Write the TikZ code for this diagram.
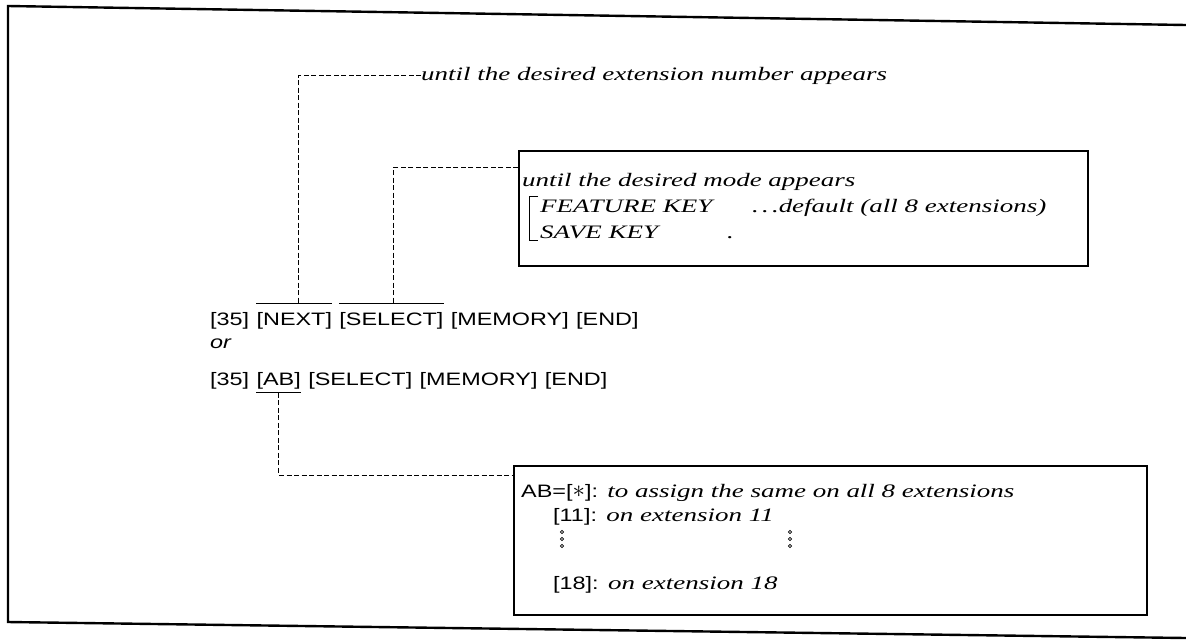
\documentclass[tikz,border=0pt]{standalone}
\usepackage{fontspec}
\setmainfont{Liberation Serif}
\newfontfamily\itf{Liberation Serif}[FakeStretch=1.42]
\newfontfamily\keyf{Liberation Sans}[FakeStretch=1.3]
\usetikzlibrary{calc}
\tikzset{
  lbl/.style={font=\itf\itshape\fontsize{19}{22}\selectfont, inner sep=0pt, anchor=base west},
  key/.style={font=\keyf\fontsize{18}{21}\selectfont, inner sep=0pt, anchor=base west},
  boxst/.style={draw, line width=1.8pt, inner sep=0pt, anchor=north west},
  conn/.style={line width=0.9pt, dash pattern=on 5pt off 2.5pt},
  bar/.style={line width=1pt},
  frame/.style={line width=2.4pt},
  dotc/.style={line width=0.6pt},
}
\newcommand{\bigstar}{\raisebox{-0.5pt}{\fontsize{28}{28}\selectfont$\ast$}}
\begin{document}
\begin{tikzpicture}[x=1pt,y=-1pt]
\useasboundingbox (0,0) rectangle (1186,641);
% outer frame (slightly skewed scan)
\draw[frame] (1186,25) -- (8,6) -- (8,622) -- (1186,638);

% top label
\node[lbl] (toplbl) at (421,80) {until the desired extension number appears};

% box 1
\node[boxst, minimum width=569pt, minimum height=115pt] (box1) at (518,150) {};
\node[lbl] (m1) at (522,186) {until the desired mode appears};
\node[lbl] (m2) at (540,212) {FEATURE KEY};
\node[lbl] (m2b) at (752,212) {.\,.\,.default (all 8 extensions)};
\node[lbl] (m3) at (540,238) {SAVE KEY};
\node[lbl] (m3b) at (727,238) {.};
\draw[bar] ($(m2.west)+(-2,-9)$) -- ++(-9,0) -- ($(m3.base west)+(-11,2)$) -- ++(9,0);

% key line 1
\node[key] (a35) at (210,325) {[35]};
\node[key] (anext) at ([xshift=7pt]a35.base east) {[NEXT]};
\node[key] (asel) at ([xshift=7pt]anext.base east) {[SELECT]};
\node[key] (amem) at ([xshift=7pt]asel.base east) {[MEMORY]};
\node[key] (aend) at ([xshift=7pt]amem.base east) {[END]};

\node[key, font=\keyf\itshape\fontsize{18}{21}\selectfont] (or) at (210,348) {or};

% key line 2
\node[key] (b35) at (210,385) {[35]};
\node[key] (bab) at ([xshift=7pt]b35.base east) {[AB]};
\node[key] (bsel) at ([xshift=7pt]bab.base east) {[SELECT]};
\node[key] (bmem) at ([xshift=7pt]bsel.base east) {[MEMORY]};
\node[key] (bend) at ([xshift=7pt]bmem.base east) {[END]};

% overlines / underline
\path (anext.north west) ++(0,-8) coordinate (nov1);
\path (anext.north east) ++(0,-8) coordinate (nov2);
\path (asel.north west) ++(0,-8) coordinate (sov1);
\path (asel.north east) ++(0,-8) coordinate (sov2);
\path (bab.south west) ++(0,4) coordinate (uab1);
\path (bab.south east) ++(0,4) coordinate (uab2);
\draw[bar] (nov1) -- (nov2);
\draw[bar] (sov1) -- (sov2);
\draw[bar] (uab1) -- (uab2);
\coordinate (nextc) at ($(nov1)!0.55!(nov2)$);
\coordinate (selc) at ($(sov1)!0.52!(sov2)$);
\coordinate (abc) at ($(uab1)!0.5!(uab2)$);

% box 2
\node[boxst, minimum width=633pt, minimum height=149pt] (box2) at (513,465) {};
\node[key] (ab) at (521,497) {AB=[\bigstar]:};
\node[lbl] (t1) at ([xshift=9pt]ab.base east) {to assign the same on all 8 extensions};
\node[key] (k11) at (553,521) {[11]:};
\node[lbl] (t11) at ([xshift=9pt]k11.base east) {on extension 11};
\node[key] (k18) at (553,589) {[18]:};
\node[lbl] (t18) at ([xshift=9pt]k18.base east) {on extension 18};
\foreach \yy in {532,539,546}{
  \draw[dotc] (562,\yy) circle (1.6pt);
  \draw[dotc] (790,\yy) circle (1.6pt);
}

% connectors
\coordinate (b1in) at ($(box1.north west)+(0,17)$);
\coordinate (b2in) at ($(box2.north west)+(0,10)$);
\draw[conn] (toplbl.west) -| (nextc);
\draw[conn] (b1in) -| (selc);
\draw[conn] (abc) |- (b2in);
\end{tikzpicture}
\end{document}
